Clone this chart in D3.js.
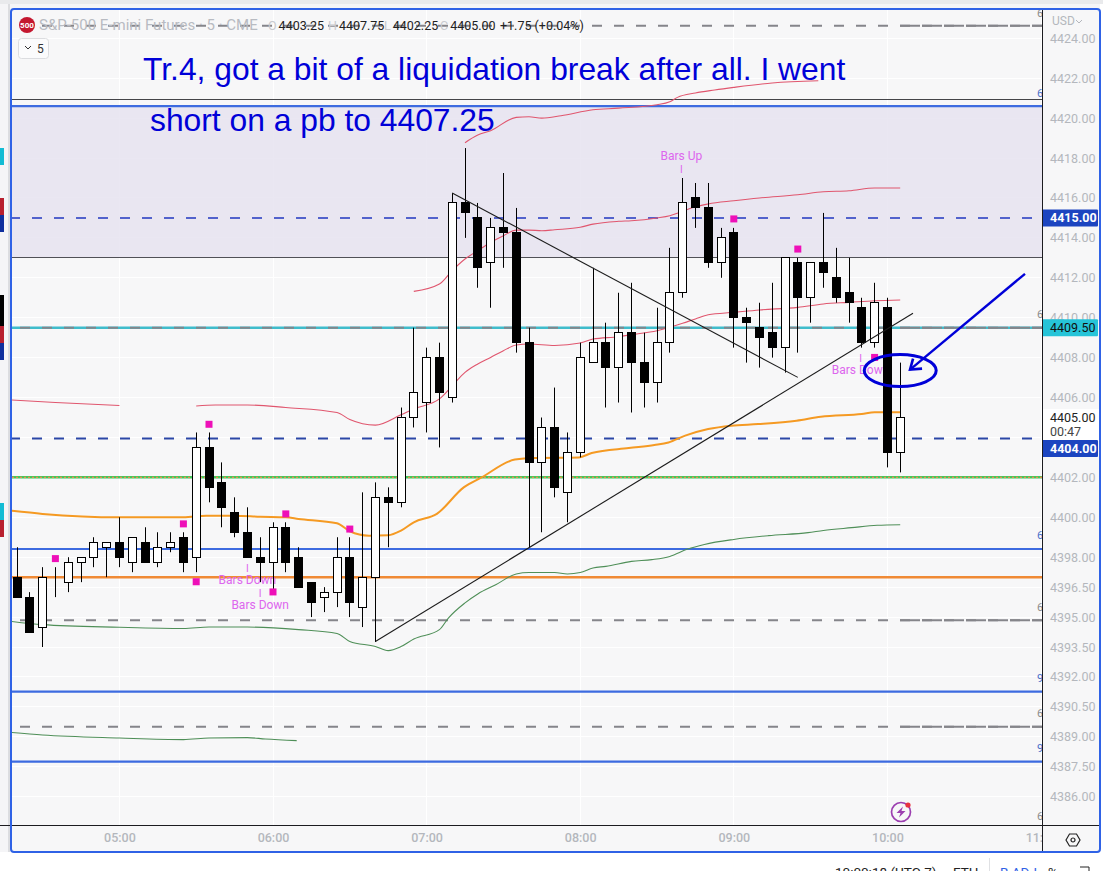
<!DOCTYPE html>
<html lang="en">
<head>
    <meta charset="UTF-8">
    <script src="https://d3js.org/d3.v7.min.js"></script>
    <title>S&amp;P-500 E-mini Futures 5 min</title>
    <style>
        html, body { margin: 0; padding: 0; background: #fff; overflow: hidden; }
        svg { display: block; }
    </style>
</head>
<body>
    <div id="chart"></div>
    <script>
        // bars, 04:20 to 10:05, one every 5 minutes
        const opens = [4397,4396,4394.5,4397,4396.75,4397.75,4398,4398.5,4398.75,4397.75,
            4398.75,4397.75,4398.5,4399,4398,4403.5,4401.75,4400.25,4399.25,4398,
            4397.75,4399.5,4398,4396.75,4396,4396.25,4398,4395.5,4397,4401,
            4400.75,4405,4405.75,4408,4406,4415.75,4415,4412.75,4414.5,4414.25,
            4408.75,4402.75,4404.5,4401.25,4403.25,4407.75,4408.75,4407.5,4409.25,4407.75,
            4406.75,4408.75,4411.25,4416,4415.5,4412.75,4414.25,4410,4409.5,4409.25,
            4408.5,4412.75,4411,4412.75,4412,4411.25,4410.5,4408.75,4410.5,4403.25];
        const highs = [4398.5,4396.25,4397.5,4397.5,4398,4398,4399,4398.75,4400,4399,
            4399.5,4399.25,4399.25,4399.25,4404.25,4404.25,4402.75,4401,4400.5,4399,
            4399.75,4399.75,4398.5,4396.75,4396.5,4399,4399,4401.25,4401.75,4401.5,
            4405.5,4409.5,4408.5,4408.75,4416.25,4418.5,4415.75,4415,4417.25,4415.5,
            4409.5,4405,4406.5,4404.25,4408.75,4412.5,4409.75,4411.25,4411.75,4409.25,
            4410.5,4413.5,4417,4416.75,4416.75,4414.5,4414.5,4410.5,4410.75,4411.75,
            4413,4413,4412.75,4415.25,4413.5,4413,4411,4411.75,4411,4407.75];
        const lows = [4396,4394.25,4393.5,4396,4396.25,4396.75,4397.5,4397,4397.5,4397.25,
            4397.75,4397.5,4398.25,4397.25,4397.25,4400.75,4399.5,4399,4398,4396.75,
            4396.25,4397.25,4396.5,4395,4395.25,4395.5,4395,4394.5,4393.75,4398.5,
            4400.5,4404.5,4404.25,4403.5,4405.75,4414,4411.5,4410.5,4412.5,4408.25,
            4398.5,4399.25,4401,4399.75,4403,4407.75,4405.5,4405.75,4405.25,4405.5,
            4405.75,4408.25,4411,4414.5,4412.5,4412,4408.5,4407.75,4407.5,4408,
            4407.25,4408.25,4409.75,4411.5,4410.75,4409.75,4408.5,4408.5,4402.5,4402.25];
        const closes = [4396,4394.25,4397,4397,4397.75,4398,4398.75,4398.75,4398,4399,
            4397.75,4398.5,4398.75,4397.75,4403.5,4401.5,4400.5,4399.25,4398,4397.75,
            4399.5,4397.75,4396.5,4395.75,4396.25,4398,4395.75,4397,4401,4400.75,
            4405,4406.25,4408,4406.25,4415.75,4415.25,4412.5,4414.5,4414.25,4408.75,
            4402.75,4404.5,4401.5,4403.25,4408,4408.75,4407.5,4409.25,4407.75,4406.75,
            4408.75,4411.25,4415.75,4415.5,4412.75,4414,4410,4409.75,4409,4408.5,
            4413,4411,4412.75,4412.25,4411,4410.75,4408.75,4410.75,4403.25,4405];

        // indicator lines as [bar, price]
        const vwapOld = [[-0.5,4400.33],[2,4400.17],[8,4400],[13,4400],[14.8,4400.08],[17,4400.08],[19,4400.03],[21,4400],[22,4399.92],[25,4399.7],[26,4399.3],[27.5,4399.08],[29,4399.1],[30,4399.33],[31,4399.75],[32.8,4400.17],[34.9,4401.5],[36.3,4402],[38.9,4402.89],[40.5,4402.97],[43.9,4403],[44.9,4403.22],[47.8,4403.47],[49.8,4403.62],[50.9,4403.75],[52.2,4404.09],[54,4404.42],[55.8,4404.59],[57.9,4404.67],[60.9,4404.84],[62.8,4405.04],[66,4405.18],[67,4405.26],[69,4405.26]];
        const redLeft = [[-0.5,4405.88],[3,4405.75],[8,4405.6]];
        const redLower = [[14,4405.58],[15.5,4405.63],[18,4405.63],[21,4405.5],[25,4405.25],[26,4404.9],[28,4404.62],[30,4405.14],[31,4405.43],[33,4405.93],[34,4406.59],[35,4407.26],[36,4407.68],[37,4408.01],[38,4408.35],[39,4408.63],[40,4408.68],[42,4408.61],[44,4408.73],[45,4408.93],[47,4409.05],[48,4409.15],[50,4409.35],[51,4409.52],[52,4409.72],[53,4409.94],[54,4410.15],[56,4410.27],[58,4410.39],[61,4410.52],[63,4410.69],[65,4410.77],[67,4410.85],[69,4410.89]];
        const redMiddle = [[31,4411.32],[33,4411.69],[34,4412.36],[35,4412.94],[36,4413.36],[37,4413.77],[38,4414.11],[39,4414.39],[40,4414.39],[41,4414.36],[42,4414.41],[44,4414.53],[45,4414.69],[47,4414.83],[48,4414.86],[50,4415],[51,4415.11],[52,4415.33],[53,4415.56],[54,4415.7],[56,4415.86],[58,4416],[61,4416.16],[63,4416.31],[65,4416.36],[67,4416.5],[69,4416.5]];
        const redUpper = [[35,4418.77],[36,4419.15],[37,4419.37],[39,4420.04],[40,4420.07],[41,4420],[42.5,4420.12],[45,4420.42],[47,4420.5],[50,4420.67],[51,4420.82],[51.6,4421.04],[53,4421.26],[54.5,4421.41],[56,4421.54],[59,4421.76],[62.6,4421.87]];
        const greenLower = [[-0.5,4394.79],[2,4394.62],[8,4394.49],[13,4394.43],[15,4394.5],[18,4394.5],[22,4394.37],[25,4394.18],[26,4393.78],[28,4393.53],[29,4393.32],[30,4393.52],[31,4393.9],[33,4394.37],[33.7,4394.95],[35,4395.71],[36,4396.16],[37.4,4396.62],[39,4397.16],[40,4397.23],[42,4397.23],[43,4397.16],[44,4397.23],[45,4397.46],[46,4397.54],[48,4397.79],[49.6,4397.88],[51,4398.04],[52.4,4398.41],[53.7,4398.64],[56,4398.89],[58.7,4399.08],[61.8,4399.23],[63,4399.34],[65.2,4399.48],[67.2,4399.6],[69,4399.63]];
        const greenBottom = [[-0.5,4389.22],[2,4389.09],[8,4388.94],[13,4388.86],[15,4388.94],[18,4388.96],[19.4,4388.89],[21.85,4388.81]];

        // signal markers and labels
        const markerBars = [3,13,14,15,20,21,26,56,61,67];
        const markerPrices = [4397.93,4399.67,4396.77,4404.66,4396.26,4400.17,4399.41,4414.95,4413.44,4408.01];
        const signalBars = [18,19,51.9,65.9];
        const signalPrices = [4396.67,4395.42,4417.92,4407.2];
        const signalTexts = ["Bars Down","Bars Down","Bars Up","Bars Down"];

        // hand drawn levels
        const levelPrices = [4424.63,4420.95,4420.6,4415,4413,4409.5,4409.5,4403.95,4402,4398.41,4397,4394.84,4391.26,4389.51,4387.76];
        const levelColors = ["#85858a","#444448","#3d6be0","#5262cc","#505056","#3fbccb","#85858a","#2b46a6","#45c75a","#3d6be0","#f08a35","#85858a","#3d6be0","#85858a","#3d6be0"];
        const levelWidths = [2,1,2.2,2,1,2.5,2,2,2.5,2.2,2.5,2,2.2,2,2.2];
        const levelDashes = ["10 12",null,null,"10 12",null,null,"10 12","10 12",null,null,null,"10 12",null,"10 12",null];
        const shadeTop = 4420.6, shadeBottom = 4413;

        const trendA = [[34,4416.25],[61,4407.01]];
        const trendB = [[28,4393.78],[70,4410.22]];
        const arrowLine = [[78.75,4412.2],[69.77,4407.4]];

        const priceTicks = [4424,4422,4420,4418,4416,4414,4412,4410,4408,4406,4402,4400,4398,4396.5,4395,4393.5,4392,4390.5,4389,4387.5,4386];
        const gridPrices = priceTicks.concat([4404]);
        const timeBars = [8,20,32,44,56,68,80];
        const timeLabels = ["05:00","06:00","07:00","08:00","09:00","10:00","11:00"];

        const stubPrices = [4425.28,4421.24,4410.2,4399.13,4395.49,4391.96,4390.18,4388.46,4385.02];
        const stubColors = ["#8a8a8a","#4a6fc8","#8a8a8a","#4a6fc8","#8a8a8a","#4a6fc8","#8a8a8a","#4a6fc8","#8a8a8a"];
        const stubTexts = ["6","6","6","6","6","9","6","9","6"];

        const width = 1103, height = 871;
        const plot = { left: 12, right: 1042, top: 9, bottom: 825 };
        const frameRight = 1100, frameBottom = 852;

        const svg = d3.select("#chart").append("svg")
            .attr("width", width)
            .attr("height", height);

        const x = d3.scaleLinear().domain([0, 69]).range([17, 17 + 69 * 12.8]);
        const y = d3.scaleLinear().domain([4386, 4424]).range([796.7, 38.3]);
        const uiFont = "Roboto, 'Open Sans', sans-serif";
        const px = v => Math.floor(v) + 0.5;

        // page around the chart
        svg.append("rect").attr("width", width).attr("height", 4).attr("fill", "#e9eaec");
        svg.append("rect").attr("y", 4).attr("width", 10).attr("height", 848).attr("fill", "#f5f5f7");
        svg.append("rect").attr("x", 8).attr("y", 4).attr("width", 2).attr("height", 848).attr("fill", "#dcdde0");
        svg.append("rect").attr("x", 10).attr("y", 4).attr("width", 1090).attr("height", 5).attr("fill", "#f5f5f7");

        svg.append("rect")
            .attr("x", plot.left).attr("y", plot.top)
            .attr("width", frameRight - plot.left).attr("height", frameBottom - plot.top)
            .attr("fill", "#f7f7f8");

        svg.append("defs").append("clipPath").attr("id", "plotClip")
            .append("rect")
            .attr("x", plot.left).attr("y", plot.top)
            .attr("width", plot.right - plot.left).attr("height", plot.bottom - plot.top);

        const chart = svg.append("g").attr("clip-path", "url(#plotClip)");

        // grid
        chart.selectAll(".hgrid").data(gridPrices).enter().append("line")
            .attr("x1", plot.left).attr("x2", plot.right)
            .attr("y1", d => px(y(d))).attr("y2", d => px(y(d)))
            .attr("stroke", "#ffffff");
        chart.selectAll(".vgrid").data(timeBars).enter().append("line")
            .attr("x1", d => px(x(d))).attr("x2", d => px(x(d)))
            .attr("y1", plot.top).attr("y2", plot.bottom)
            .attr("stroke", "#ffffff");

        chart.append("rect")
            .attr("x", plot.left).attr("width", plot.right - plot.left)
            .attr("y", y(shadeTop)).attr("height", y(shadeBottom) - y(shadeTop))
            .attr("fill", "#e6e3f0").attr("opacity", 0.85);

        // levels
        const levels = levelPrices.map((p, i) => ({ p, color: levelColors[i], w: levelWidths[i], dash: levelDashes[i] }));
        chart.selectAll(".level").data(levels).enter().append("line")
            .attr("x1", d => d.color === "#85858a" ? 20 : 10).attr("x2", plot.right)
            .attr("y1", d => d.w === 1 ? px(y(d.p)) : y(d.p)).attr("y2", d => d.w === 1 ? px(y(d.p)) : y(d.p))
            .attr("stroke", d => d.color)
            .attr("stroke-width", d => d.w)
            .attr("stroke-dasharray", d => d.dash);

        // grey dashes run doubled right of the last bar
        chart.selectAll(".levelExt").data(levels.filter(d => d.color === "#85858a")).enter().append("line")
            .attr("x1", 900).attr("x2", plot.right)
            .attr("y1", d => y(d.p)).attr("y2", d => y(d.p))
            .attr("stroke", d => d.color).attr("stroke-width", 2)
            .attr("stroke-dasharray", "20 2");

        // orange dots over the green on the 4402 level
        chart.append("line")
            .attr("x1", plot.left).attr("x2", plot.right)
            .attr("y1", y(4402)).attr("y2", y(4402))
            .attr("stroke", "#ee8a50").attr("stroke-width", 1.4)
            .attr("stroke-dasharray", "2 2");

        // clipped level labels at the edge of the pane
        chart.selectAll(".stub").data(stubPrices).enter().append("text")
            .attr("x", 1037).attr("y", d => y(d) + 4)
            .attr("font-family", uiFont).attr("font-size", 11)
            .attr("fill", (d, i) => stubColors[i])
            .text((d, i) => stubTexts[i]);

        // indicators
        const line = d3.line().x(d => x(d[0])).y(d => y(d[1])).curve(d3.curveMonotoneX);
        [redLeft, redLower, redMiddle, redUpper].forEach(s => {
            chart.append("path").attr("d", line(s)).attr("fill", "none").attr("stroke", "#e0566e").attr("stroke-width", 1.1);
        });
        [greenLower, greenBottom].forEach(s => {
            chart.append("path").attr("d", line(s)).attr("fill", "none").attr("stroke", "#4f8f58").attr("stroke-width", 1.1);
        });
        chart.append("path").attr("d", line(vwapOld)).attr("fill", "none").attr("stroke", "#f59a23").attr("stroke-width", 2);

        // signal labels sit behind the bars, tick on the bar side
        const signals = signalBars.map((b, i) => ({ b, p: signalPrices[i], t: signalTexts[i] }));
        chart.selectAll(".signalText").data(signals).enter().append("text")
            .attr("x", d => x(d.b)).attr("y", d => y(d.p))
            .attr("text-anchor", "middle")
            .attr("font-family", uiFont).attr("font-size", 12)
            .attr("fill", "#dd66ee")
            .text(d => d.t);
        chart.selectAll(".signalTick").data(signals).enter().append("text")
            .attr("x", d => x(d.b)).attr("y", d => y(d.p) + (d.t === "Bars Up" ? 13 : -12))
            .attr("text-anchor", "middle")
            .attr("font-family", uiFont).attr("font-size", 10)
            .attr("fill", "#dd66ee")
            .text("I");

        // candles
        const bars = opens.map((o, i) => ({ i, o, h: highs[i], l: lows[i], c: closes[i] }));
        chart.selectAll(".wick").data(bars).enter().append("line")
            .attr("x1", d => px(x(d.i))).attr("x2", d => px(x(d.i)))
            .attr("y1", d => y(d.h)).attr("y2", d => y(d.l))
            .attr("stroke", "#000");
        chart.selectAll(".body").data(bars).enter().append("rect")
            .attr("x", d => px(x(d.i)) - 4)
            .attr("width", 8)
            .attr("y", d => px(y(Math.max(d.o, d.c))))
            .attr("height", d => Math.round(Math.abs(y(d.o) - y(d.c))))
            .attr("fill", d => d.c < d.o ? "#000" : "#fff")
            .attr("stroke", "#000");

        // trend lines
        [trendA, trendB].forEach(t => {
            chart.append("line")
                .attr("x1", x(t[0][0])).attr("y1", y(t[0][1]))
                .attr("x2", x(t[1][0])).attr("y2", y(t[1][1]))
                .attr("stroke", "#1c1c1c").attr("stroke-width", 1.1);
        });

        // markers
        chart.selectAll(".marker").data(markerBars).enter().append("rect")
            .attr("x", d => x(d) - 3.5)
            .attr("y", (d, i) => y(markerPrices[i]) - 3.5)
            .attr("width", 7).attr("height", 7)
            .attr("fill", "#ee10b8");

        // lightning icon
        const bolt = svg.append("g").attr("transform", "translate(901,812)");
        bolt.append("circle").attr("r", 9.5).attr("fill", "none").attr("stroke", "#9c3fb0").attr("stroke-width", 1.7);
        bolt.append("path").attr("d", "M2,-5.5 L-4.5,1 L-0.5,1 L-2,5.5 L4.5,-1 L0.5,-1 Z").attr("fill", "#9c3fb0");
        bolt.append("circle").attr("cx", 7).attr("cy", -7).attr("r", 2.6).attr("fill", "#e8333f");

        // handwritten notes
        const ink = "#0000d8";
        svg.append("ellipse")
            .attr("cx", x(69)).attr("cy", y(4407.35))
            .attr("rx", 36).attr("ry", 16)
            .attr("fill", "none").attr("stroke", ink).attr("stroke-width", 3);
        const ax1 = x(arrowLine[0][0]), ay1 = y(arrowLine[0][1]), ax2 = x(arrowLine[1][0]), ay2 = y(arrowLine[1][1]);
        svg.append("line").attr("x1", ax1).attr("y1", ay1).attr("x2", ax2).attr("y2", ay2)
            .attr("stroke", ink).attr("stroke-width", 2.4);
        svg.append("path")
            .attr("d", `M${ax2 + 3},${ay2 - 11} L${ax2},${ay2} L${ax2 + 12},${ay2 - 1}`)
            .attr("fill", "none").attr("stroke", ink).attr("stroke-width", 2.6);

        svg.append("text").attr("x", 143).attr("y", 80)
            .attr("font-family", "'Liberation Sans', Arial, sans-serif").attr("font-size", 31.8)
            .attr("fill", ink)
            .text("Tr.4, got a bit of a liquidation break after all. I went");
        svg.append("text").attr("x", 150).attr("y", 131)
            .attr("font-family", "'Liberation Sans', Arial, sans-serif").attr("font-size", 31.8)
            .attr("fill", ink)
            .text("short on a pb to 4407.25");

        // price axis
        const yAxis = d3.axisRight(y).tickValues(priceTicks).tickFormat(d3.format(".2f")).tickSize(0).tickPadding(8);
        const yG = svg.append("g").attr("transform", `translate(${plot.right},0)`).call(yAxis);
        yG.select(".domain").remove();
        yG.selectAll("text").attr("font-family", uiFont).attr("font-size", 12.5).attr("fill", "#b4b7bd");

        // time axis
        svg.select("defs").append("clipPath").attr("id", "axisClip")
            .append("rect").attr("x", plot.left).attr("y", plot.bottom).attr("width", plot.right - plot.left).attr("height", 27);
        const xAxis = d3.axisBottom(x).tickValues(timeBars).tickFormat((d, i) => timeLabels[i]).tickSize(0).tickPadding(8);
        const xWrap = svg.append("g").attr("clip-path", "url(#axisClip)");
        const xG = xWrap.append("g").attr("transform", `translate(0,${plot.bottom})`).call(xAxis);
        xG.select(".domain").remove();
        xG.selectAll("text").attr("font-family", uiFont).attr("font-size", 12.5).attr("font-weight", 500).attr("fill", "#b4b7bd");

        // price flags
        function flag(price, fill, color, weight, label) {
            svg.append("rect")
                .attr("x", plot.right).attr("y", y(price) - 8.5)
                .attr("width", 56).attr("height", 17).attr("rx", 1)
                .attr("fill", fill);
            svg.append("text")
                .attr("x", plot.right + 8).attr("y", y(price) + 4.5)
                .attr("font-family", uiFont).attr("font-size", 12.5).attr("font-weight", weight)
                .attr("fill", color)
                .text(label);
        }
        flag(4415, "#1c45c0", "#fff", 700, "4415.00");
        flag(4409.5, "#26c4d8", "#111", 400, "4409.50");

        svg.append("rect").attr("x", plot.right + 1).attr("y", 409).attr("width", 56).attr("height", 32).attr("fill", "#fff");
        svg.append("text").attr("x", plot.right + 8).attr("y", 421.5)
            .attr("font-family", uiFont).attr("font-size", 12.5).attr("fill", "#222").text("4405.00");
        svg.append("text").attr("x", plot.right + 8).attr("y", 436)
            .attr("font-family", uiFont).attr("font-size", 12.5).attr("fill", "#444").text("00:47");

        svg.append("rect").attr("x", plot.right).attr("y", 440).attr("width", 56).attr("height", 17).attr("rx", 1).attr("fill", "#1c45c0");
        svg.append("text").attr("x", plot.right + 8).attr("y", 453)
            .attr("font-family", uiFont).attr("font-size", 12.5).attr("font-weight", 700).attr("fill", "#fff").text("4404.00");

        svg.append("text").attr("x", 1052).attr("y", 25)
            .attr("font-family", uiFont).attr("font-size", 12).attr("fill", "#b4b7bd").text("USD");
        svg.append("path").attr("d", "M1076,20 L1079,23 L1082,20").attr("fill", "none").attr("stroke", "#b4b7bd");

        // pane dividers and frame
        svg.append("line").attr("x1", plot.right + 0.5).attr("x2", plot.right + 0.5)
            .attr("y1", plot.top).attr("y2", frameBottom).attr("stroke", "#1c1c20");
        svg.append("line").attr("x1", 0).attr("x2", frameRight)
            .attr("y1", plot.bottom + 0.5).attr("y2", plot.bottom + 0.5).attr("stroke", "#1c1c20");
        svg.append("rect")
            .attr("x", 11).attr("y", 9)
            .attr("width", frameRight - 11).attr("height", frameBottom - 9)
            .attr("rx", 3)
            .attr("fill", "none").attr("stroke", "#2f62e6").attr("stroke-width", 2);

        // settings icon
        const gear = svg.append("g").attr("transform", "translate(1073,840)");
        gear.append("path").attr("d", "M-7,0 L-3.5,-6 L3.5,-6 L7,0 L3.5,6 L-3.5,6 Z").attr("fill", "none").attr("stroke", "#222").attr("stroke-width", 1.2);
        gear.append("circle").attr("r", 2).attr("fill", "none").attr("stroke", "#222").attr("stroke-width", 1.2);

        // legend
        svg.append("circle").attr("cx", 27).attr("cy", 25).attr("r", 8).attr("fill", "#c4172f");
        svg.append("text").attr("x", 27).attr("y", 28)
            .attr("text-anchor", "middle").attr("font-family", uiFont).attr("font-size", 8).attr("font-weight", 700)
            .attr("fill", "#fff").text("500");
        svg.append("text").attr("x", 39).attr("y", 30)
            .attr("font-family", uiFont).attr("font-size", 15).attr("fill", "#b8bbc2")
            .text("S&P-500 E-mini Futures · 5 · CME");

        const ohlcLetters = ["O", "H", "L", "C"];
        const ohlcValues = ["4403.25", "4407.75", "4402.25", "4405.00"];
        const ohlcX = [268, 328, 384, 440];
        ohlcLetters.forEach((l, i) => {
            const t = svg.append("text").attr("x", ohlcX[i]).attr("y", 30)
                .attr("font-family", uiFont).attr("font-size", 12.5);
            t.append("tspan").attr("fill", "#c8cacf").text(l);
            t.append("tspan").attr("fill", "#222").attr("dx", 2).text(ohlcValues[i]);
        });
        svg.append("text").attr("x", 500).attr("y", 30)
            .attr("font-family", uiFont).attr("font-size", 12.5).attr("fill", "#222")
            .text("+1.75 (+0.04%)");

        svg.append("rect").attr("x", 18.5).attr("y", 38.5).attr("width", 30).attr("height", 20).attr("rx", 3)
            .attr("fill", "#fbfbfc").attr("stroke", "#dcdde0");
        svg.append("path").attr("d", "M25,46 L28,49 L31,46").attr("fill", "none").attr("stroke", "#333");
        svg.append("text").attr("x", 37).attr("y", 53)
            .attr("font-family", uiFont).attr("font-size", 12).attr("fill", "#333").text("5");

        // left toolbar tabs
        const tabTops = [148,198,215,295,326,343,503,520];
        const tabHeights = [17,17,17,31,17,17,17,17];
        const tabColors = ["#13bcd4","#b8202f","#0f2f9e","#000","#b8202f","#0f2f9e","#13bcd4","#b8202f"];
        svg.selectAll(".tab").data(tabTops).enter().append("rect")
            .attr("x", 0).attr("y", d => d)
            .attr("width", 4).attr("height", (d, i) => tabHeights[i])
            .attr("fill", (d, i) => tabColors[i]);

        // status bar, cut by the bottom of the window
        const statusTexts = ["10:00:18 (UTC-7)", "ETH", "B ADJ", "%"];
        const statusX = [835, 953, 1000, 1048];
        const statusFill = ["#222", "#222", "#2f62e6", "#222"];
        statusTexts.forEach((s, i) => {
            svg.append("text").attr("x", statusX[i]).attr("y", 877)
                .attr("font-family", uiFont).attr("font-size", 13.5)
                .attr("fill", statusFill[i]).text(s);
        });
        svg.append("line").attr("x1", 989.5).attr("x2", 989.5).attr("y1", 858).attr("y2", 871).attr("stroke", "#e0e1e4");
        svg.append("path").attr("d", "M1080,867 L1089,867 L1089,871").attr("fill", "none").attr("stroke", "#222");
    </script>
</body>
</html>
